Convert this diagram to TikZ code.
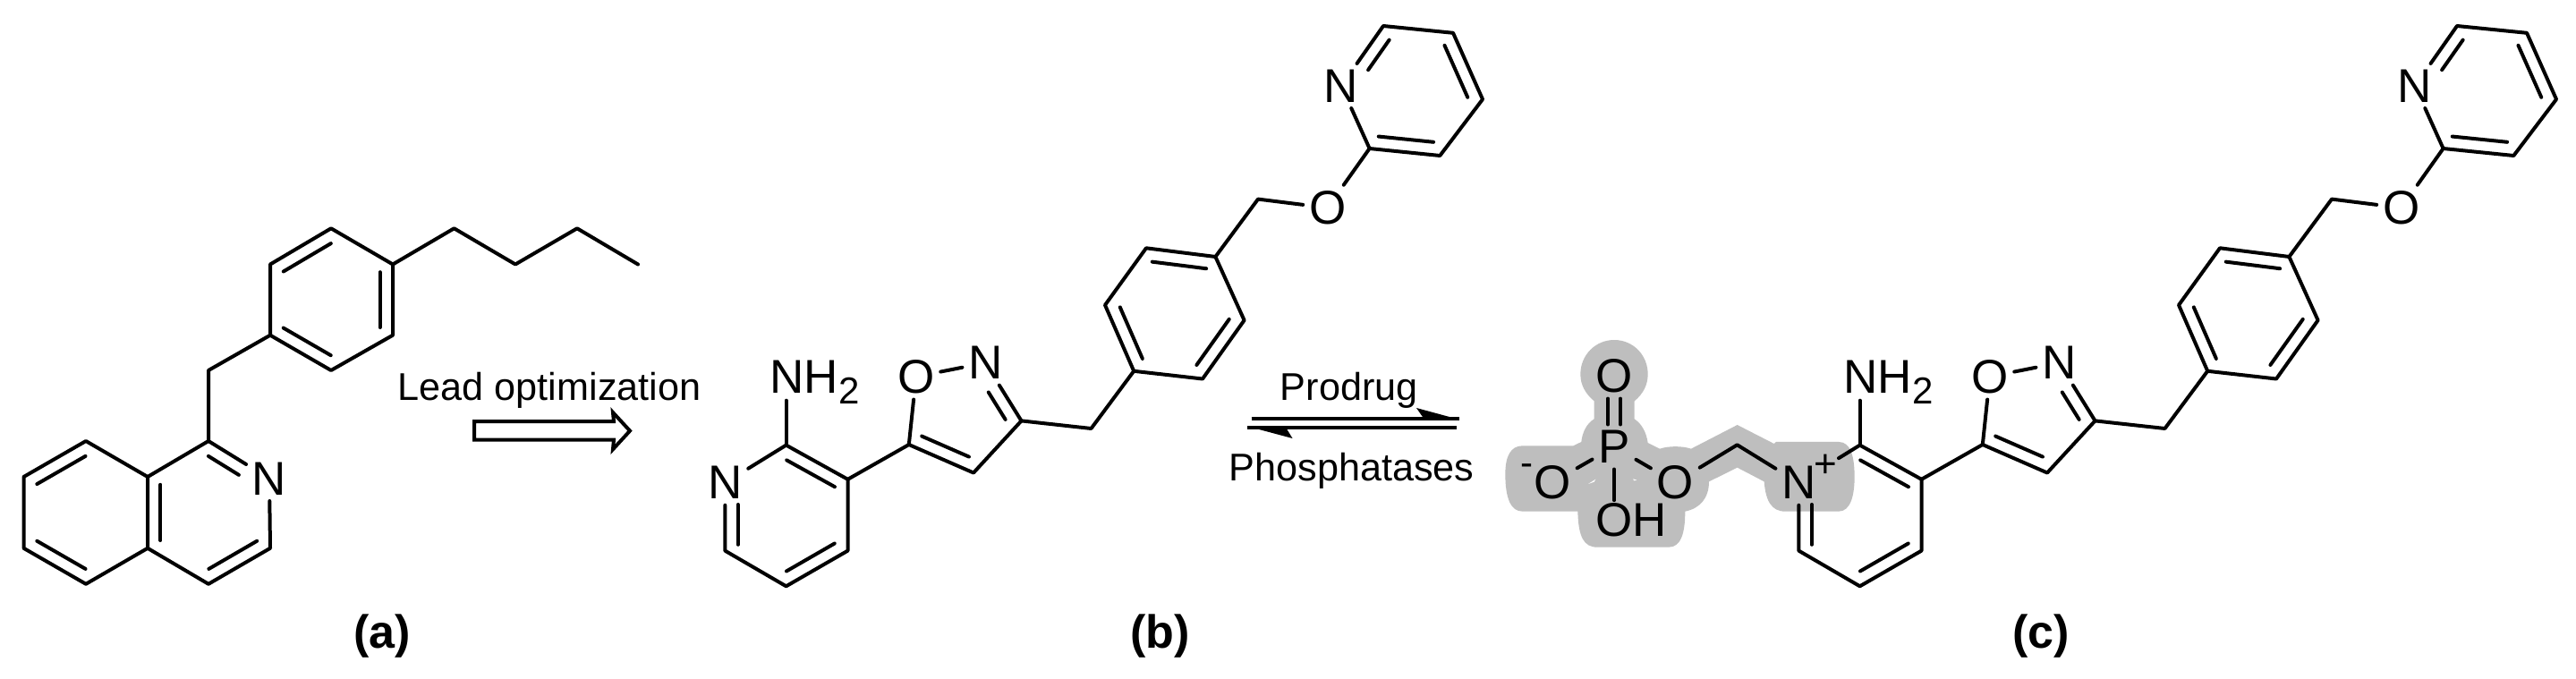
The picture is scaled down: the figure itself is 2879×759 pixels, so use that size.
\documentclass[tikz,border=0pt]{standalone}
\usepackage{fontspec}
\setmainfont{Liberation Sans}
\usetikzlibrary{calc}
\definecolor{blob}{HTML}{BEBEBE}
\newcommand{\atomfont}{\fontsize{13.25pt}{15pt}\selectfont}
\newcommand{\labfont}{\fontsize{10.8pt}{13pt}\selectfont}
\newcommand{\capfont}{\fontsize{13pt}{15pt}\selectfont\bfseries}
\newcommand{\subfont}{\fontsize{10.5pt}{12pt}\selectfont}
\tikzset{
  bond/.style={line width=1pt,line cap=round,line join=round},
  atom/.style={inner sep=1.5pt,font=\atomfont},
  steptext/.style={inner sep=0pt,anchor=base west,font=\labfont},
  captext/.style={inner sep=0pt,anchor=base,font=\capfont},
  rxn/.style={line width=1pt},
  head/.style={fill=black,draw=none},
  patch/.style={fill=blob,draw=none}
}
% inner stroke of a double bond, on the left of a -> b (as seen)
\newcommand{\dbx}[4]{\draw[bond] ($(#1)!#3!(#2)!3.6pt!90:(#2)$) -- ($(#1)!#4!(#2)!3.6pt!-90:(#1)$);}
\newcommand{\dbl}[2]{\dbx{#1}{#2}{.11}{.89}}
% the part that molecules (b) and (c) have in common
\newcommand{\pyrmol}[2]{%
\begin{scope}[shift={(#1,0)}]
  \node[atom] (#2n) at (810.3,539.7) {N};
  \coordinate (#2c2) at (878.6,497.6);
  \coordinate (#2c3) at (947.5,535.8);
  \coordinate (#2c4) at (947.5,615.6);
  \coordinate (#2c5) at (878.6,655.3);
  \coordinate (#2c6) at (810.3,615.6);
  \node[inner sep=0pt,anchor=base west,font=\atomfont] (#2nh) at (859.7,439.5) {NH\raisebox{-2.95pt}{\subfont 2}};
  \coordinate (#2nhb) at (878.6,447.7);
  \coordinate (#2d5) at (1015.8,497);
  \node[atom] (#2do) at (1023.8,421) {O};
  \node[atom] (#2dn) at (1101.3,405.6) {N};
  \coordinate (#2d3) at (1141.5,470.4);
  \coordinate (#2d4) at (1088,528.5);
  \coordinate (#2m1) at (1219.5,479);
  \coordinate (#2r1) at (1267.2,414.8);
  \coordinate (#2r2) at (1344,423.5);
  \coordinate (#2r3) at (1390.6,358);
  \coordinate (#2r4) at (1358.4,287);
  \coordinate (#2r5) at (1281,277.3);
  \coordinate (#2r6) at (1235,341);
  \coordinate (#2m2) at (1406,222.6);
  \node[atom] (#2eo) at (1483.6,232.3) {O};
  \coordinate (#2p2) at (1530.6,166);
  \coordinate (#2p3) at (1609.3,174);
  \coordinate (#2p4) at (1657,111);
  \coordinate (#2p5) at (1624,36.8);
  \coordinate (#2p6) at (1546,29);
  \node[atom] (#2pn) at (1499,96) {N};
  \draw[bond] (#2n) -- (#2c6) -- (#2c5) -- (#2c4) -- (#2c3) -- (#2c2);
  \draw[bond] (#2c2) -- (#2nhb);
  \draw[bond] (#2c3) -- (#2d5) -- (#2d4) -- (#2d3) -- (#2dn);
  \draw[bond] (#2d5) -- (#2do);
  \draw[bond] (#2do) -- (#2dn);
  \draw[bond] (#2d3) -- (#2m1) -- (#2r1) -- (#2r2) -- (#2r3) -- (#2r4) -- (#2r5) -- (#2r6) -- (#2r1);
  \draw[bond] (#2r4) -- (#2m2) -- (#2eo);
  \draw[bond] (#2eo) -- (#2p2) -- (#2p3) -- (#2p4) -- (#2p5) -- (#2p6) -- (#2pn) -- (#2p2);
  \dbx{#2n}{#2c6}{.32}{.91}
  \dbl{#2c5}{#2c4}
  \dbl{#2c3}{#2c2}
  \dbx{#2d5}{#2d4}{.12}{.85}
  \dbx{#2d3}{#2dn}{.14}{.61}
  \dbl{#2r2}{#2r3}
  \dbl{#2r4}{#2r5}
  \dbl{#2r6}{#2r1}
  \dbl{#2p2}{#2p3}
  \dbl{#2p4}{#2p5}
  \dbx{#2p6}{#2pn}{.11}{.61}
\end{scope}}
\begin{document}
\begin{tikzpicture}[x=.25pt,y=-.25pt]
\useasboundingbox (0,0) rectangle (2879,759);
\fill[white] (0,0) rectangle (2879,759);

% ---------- (a)
\coordinate (a1) at (96,493);
\coordinate (a2) at (26.5,533);
\coordinate (a3) at (26.5,612.8);
\coordinate (a4) at (96,652.8);
\coordinate (a5) at (165,612.8);
\coordinate (a6) at (165,533);
\coordinate (a7) at (233,493);
\node[atom] (an) at (301,535) {N};
\coordinate (a8) at (302,612.8);
\coordinate (a9) at (233,652.8);
\coordinate (am) at (233,414);
\coordinate (b1) at (302,374.7);
\coordinate (b2) at (370,414);
\coordinate (b3) at (439,374.7);
\coordinate (b4) at (439,295.5);
\coordinate (b5) at (370,255.3);
\coordinate (b6) at (302,295.5);
\coordinate (e1) at (507.5,255.3);
\coordinate (e2) at (576,295.5);
\coordinate (e3) at (645,255.3);
\coordinate (e4) at (713,295.5);
\draw[bond] (a1) -- (a2) -- (a3) -- (a4) -- (a5) -- (a6) -- cycle;
\draw[bond] (a6) -- (a7) -- (an);
\draw[bond] (an) -- (a8) -- (a9) -- (a5);
\draw[bond] (a7) -- (am) -- (b1) -- (b2) -- (b3) -- (b4) -- (b5) -- (b6) -- (b1);
\draw[bond] (b4) -- (e1) -- (e2) -- (e3) -- (e4);
\dbl{a1}{a2}
\dbl{a3}{a4}
\dbl{a6}{a5}
\dbx{an}{a7}{.39}{.89}
\dbl{a9}{a8}
\dbl{b1}{b2}
\dbl{b3}{b4}
\dbl{b5}{b6}
\node[steptext] (lead) at (444,447.8) {Lead optimization};
\draw[line width=1pt,fill=white,line join=miter] (530,471) -- (686,471) -- (685,461) -- (704,481.6) -- (685,502.3) -- (686,491.6) -- (530,491.6) -- cycle;
\node[captext] (capa) at (427,724) {(a)};

% ---------- highlight of the phosphate group
\begin{scope}[shift={(1670,370)},x=.08333pt,y=-.08333pt]
\fill[patch] (335,235) -- (335,295) .. controls (310,310) and (295,340) .. (292,372) -- (265,385) -- (95,385) .. controls (55,385) and (37,420) .. (37,480) .. controls (37,560) and (55,605) .. (95,605) -- (280,605) .. controls (282,690) and (300,725) .. (345,725) -- (585,725) .. controls (625,725) and (640,680) .. (640,605) .. controls (690,595) and (720,560) .. (720,505) -- (815,458) -- (905,505) .. controls (910,570) and (930,605) .. (975,605) -- (1155,605) .. controls (1195,605) and (1208,550) .. (1208,490) .. controls (1208,420) and (1195,372) .. (1155,372) -- (945,372) -- (938,378) -- (815,315) -- (660,395) .. controls (630,385) and (585,385) .. (555,395) -- (515,375) .. controls (510,340) and (495,312) .. (470,295) -- (470,235) .. controls (500,210) and (515,180) .. (515,145) .. controls (515,80) and (465,30) .. (402,30) .. controls (340,30) and (289,80) .. (289,145) .. controls (289,180) and (305,210) .. (335,235) -- cycle;
\fill[white] (315,513) -- (340,497) -- (335,506) -- cycle;
\fill[white] (466,496) -- (478,500) -- (468,502) -- cycle;
\end{scope}

% ---------- (b)
\pyrmol{0}{x}
\draw[bond] (xn) -- (xc2);
\node[captext] (capb) at (1296.7,724) {(b)};

% ---------- equilibrium
\node[steptext] (prod) at (1430,447.7) {Prodrug};
\node[steptext] (phos) at (1373,537) {Phosphatases};
\coordinate (q1) at (1398.6,467.5);
\coordinate (q2) at (1631,467.5);
\coordinate (q3) at (1394,477.7);
\coordinate (q4) at (1628,477.7);
\draw[rxn] (q1) -- (q2);
\draw[rxn] (q4) -- (q3);
\fill[head] (1631,469) -- (1583,456) -- (1591,467.5) -- cycle;
\fill[head] (1394,476.5) -- (1444.5,490) -- (1437,477.7) -- cycle;

% ---------- (c)
\pyrmol{1200}{y}
\draw[bond,shorten <=5.5pt] (yn) -- (yc2);
\node[inner sep=0pt,font=\fontsize{11pt}{12pt}\selectfont] (plus) at (2040,521) {+};
\coordinate (cc) at (1941.5,497.3);
\node[atom] (oest) at (1872.3,539.3) {O};
\node[atom] (pp) at (1804,499.5) {P};
\node[atom] (otop) at (1804,420) {O};
\node[atom] (omin) at (1735.2,539) {O};
\node[inner sep=0pt,font=\subfont] (minus) at (1706,525) {-};
\node[inner sep=1.5pt,anchor=base west,font=\atomfont] (oh) at (1776.5,599) {OH};
\draw[bond] (yn) -- (cc) -- (oest);
\draw[bond] (pp) -- (oest);
\draw[bond] (pp) -- (omin);
\draw[bond,shorten >=-1pt] (pp) -- (pp |- oh.north);
\draw[bond] ([xshift=-1.75pt]pp.north) -- ([xshift=-1.75pt]otop.south);
\draw[bond] ([xshift=1.75pt]pp.north) -- ([xshift=1.75pt]otop.south);
\node[captext] (capc) at (2281,724) {(c)};
\end{tikzpicture}
\end{document}
